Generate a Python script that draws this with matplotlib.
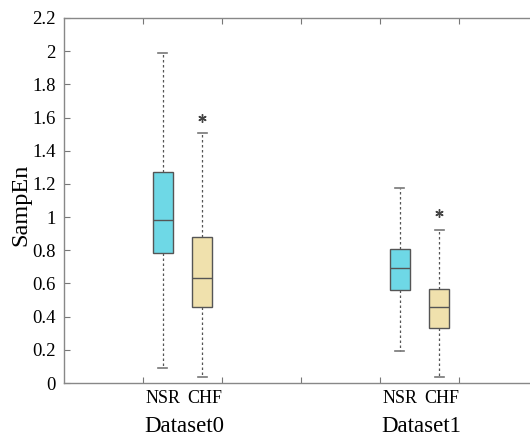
import numpy as np
import matplotlib.pyplot as plt
import matplotlib.transforms as mtransforms

# box statistics: (whisker low, q1, median, q3, whisker high)
groups = ["Dataset0", "Dataset1"]
classes = ["NSR", "CHF"]
nsr_stats = [[0.09, 0.786, 0.98, 1.269, 1.99],
             [0.193, 0.562, 0.695, 0.81, 1.178]]
chf_stats = [[0.036, 0.46, 0.634, 0.88, 1.505],
             [0.036, 0.332, 0.459, 0.568, 0.924]]
chf_outliers = [[1.60], [1.025]]

positions = [[1.25, 1.75], [4.25, 4.75]]
box_colors = ["#6ed8e6", "#f0e1ad"]
edge = "#555555"

plt.rcParams['font.family'] = ['Liberation Serif', 'DejaVu Serif']

fig = plt.figure(figsize=(5.3, 4.37), dpi=100)
ax = fig.add_axes([64 / 530, 54 / 437, 474 / 530, 365 / 437])

bxp_list = []
for g in range(len(groups)):
    for c, stats in enumerate([nsr_stats, chf_stats]):
        lo, q1, med, q3, hi = stats[g]
        fl = chf_outliers[g] if c == 1 else []
        bxp_list.append(dict(whislo=lo, q1=q1, med=med, q3=q3, whishi=hi,
                             fliers=fl, label=classes[c]))

pos_flat = [p for pair in positions for p in pair]
res = ax.bxp(bxp_list, positions=pos_flat, widths=0.25, patch_artist=True,
             manage_ticks=False,
             boxprops=dict(edgecolor=edge, linewidth=1.0),
             medianprops=dict(color=edge, linewidth=1.0),
             whiskerprops=dict(color=edge, linestyle=(0, (2, 2)), linewidth=0.9),
             capprops=dict(color="#777777", linewidth=1.2),
             capwidths=0.11,
             flierprops=dict(marker=(6, 2, 0), markersize=6, markeredgecolor="#444444",
                             markeredgewidth=1.0, linestyle='none'))
for i, b in enumerate(res['boxes']):
    b.set_facecolor(box_colors[i % 2])

ax.set_xlim(0, 6)
ax.set_ylim(0, 2.2)
yt = np.arange(0, 2.21, 0.2)
ax.set_yticks(yt)
ax.set_yticklabels(["0" if v == 0 else ("%g" % round(v, 1)) for v in yt])
ax.set_xticks([1, 2, 3, 4, 5])
ax.set_xticklabels([])
ax.tick_params(axis='both', direction='in', length=4, color="#777777",
               labelsize=13.5, top=True, right=False)
ax.tick_params(axis='y', pad=6)
for s in ax.spines.values():
    s.set_color("#888888")
    s.set_linewidth(1.0)
ax.spines['right'].set_visible(False)   # the box runs off the right edge in the original

ax.set_ylabel("SampEn", fontsize=17.5, labelpad=1)
ax.yaxis.set_label_coords(-0.068, 0.488)

# category / group labels below the axis, offset from the bottom spine
for g in range(len(groups)):
    for c in range(2):
        tr = mtransforms.offset_copy(ax.get_xaxis_transform(), fig=fig, y=-7, units='dots')
        ax.text(positions[g][c] + (0.03 if c == 1 else 0), 0, classes[c],
                ha='center', va='top', fontsize=13, transform=tr)
    tr = mtransforms.offset_copy(ax.get_xaxis_transform(), fig=fig, y=-33, units='dots')
    ax.text(np.mean(positions[g]) + 0.02, 0, groups[g], ha='center', va='top',
            fontsize=16.5, transform=tr)

fig.savefig("out.png", dpi=100)
